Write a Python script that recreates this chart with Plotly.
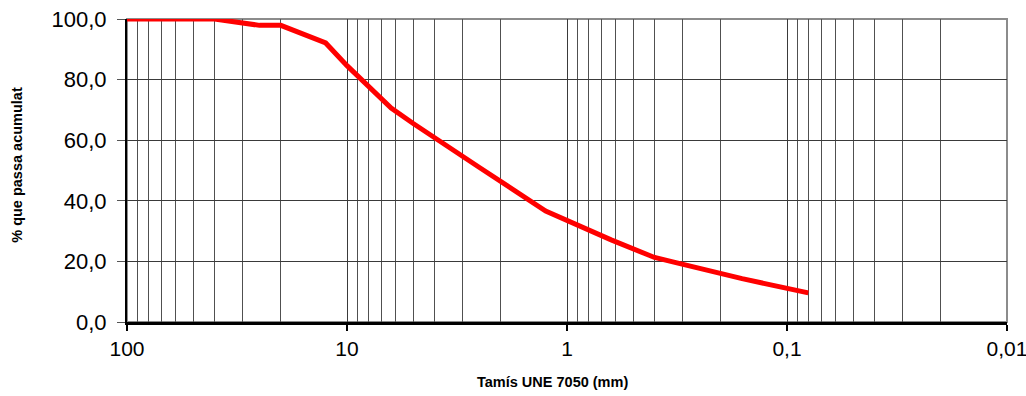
import plotly.graph_objects as go

# sieve opening (mm) and cumulative % passing
sieve_mm = [100, 63, 40, 25, 20, 12.5, 10, 6.3, 5, 2.5, 1.25, 0.63, 0.4, 0.32, 0.16, 0.08]
passing = [100.0, 100.0, 100.0, 97.9, 97.9, 92.1, 84.6, 70.6, 65.5, 51.0, 36.6, 27.1, 21.3, 19.6, 14.3, 9.6]

x_ticks = [100, 10, 1, 0.1, 0.01]
x_labels = ["100", "10", "1", "0,1", "0,01"]
y_ticks = [0, 20, 40, 60, 80, 100]

# intermediate log grid lines (2..9 in every decade)
decades = [10, 1, 0.1, 0.01]
minor_vals = [round(d * k, 4) for d in decades for k in range(2, 10)]

FONT = "Liberation Sans, Arial, sans-serif"

W, H = 1026, 396
L, T, R, B = 126.7, 19.3, 19.3, 74.3
PW, PH = W - L - R, H - T - B

fig = go.Figure()
fig.add_trace(go.Scatter(
    x=sieve_mm, y=passing, mode="lines",
    line=dict(color="#ff0000", width=5),
    hoverinfo="x+y", showlegend=False,
))

fig.update_layout(
    width=W, height=H,
    margin=dict(l=L, r=R, t=T, b=B, autoexpand=False),
    paper_bgcolor="white", plot_bgcolor="white",
    separators=",.",
    font=dict(family=FONT, color="black"),
    shapes=[dict(type="rect", xref="paper", yref="paper", x0=0, x1=1, y0=0, y1=1,
                 line=dict(color="#8c8c8c", width=2), layer="below")],
    annotations=[
        dict(text="<b>% que passa acumulat</b>", xref="paper", yref="paper",
             x=(16.5 - L) / PW, y=(H - B - 165) / PH, xanchor="center", yanchor="middle",
             textangle=-90, showarrow=False, font=dict(size=14.5, family=FONT)),
        dict(text="<b>Tamís UNE 7050 (mm)</b>", xref="paper", yref="paper",
             x=(552 - L) / PW, y=-(382 - (H - B)) / PH, xanchor="center", yanchor="middle",
             showarrow=False, font=dict(size=14.5, family=FONT)),
    ],
)

fig.update_xaxes(
    type="log", range=[2, -2], automargin=False,
    tickmode="array", tickvals=x_ticks, ticktext=x_labels,
    tickfont=dict(size=21), ticklabeloverflow="allow",
    ticks="outside", ticklen=6, tickwidth=2, tickcolor="black",
    showgrid=True, gridcolor="#3a3a3a", gridwidth=1,
    showline=True, linecolor="black", linewidth=3,
    zeroline=False,
    minor=dict(tickmode="array", tickvals=minor_vals, showgrid=True,
               gridcolor="#505050", gridwidth=1, ticks=""),
)
fig.update_yaxes(
    range=[0, 100], automargin=False,
    tickmode="array", tickvals=y_ticks, tickformat=".1f",
    tickfont=dict(size=22), ticklabeloverflow="allow", ticklabelstandoff=6,
    ticks="outside", ticklen=8, tickwidth=1, tickcolor="#555555",
    showgrid=True, gridcolor="#3a3a3a", gridwidth=1,
    showline=True, linecolor="black", linewidth=2,
    zeroline=False,
)

# drop the default 8px page margin so the figure fills the window exactly
fig.write_html("out.html", config={"displayModeBar": False},
               post_script="document.body.style.margin='0px';")
